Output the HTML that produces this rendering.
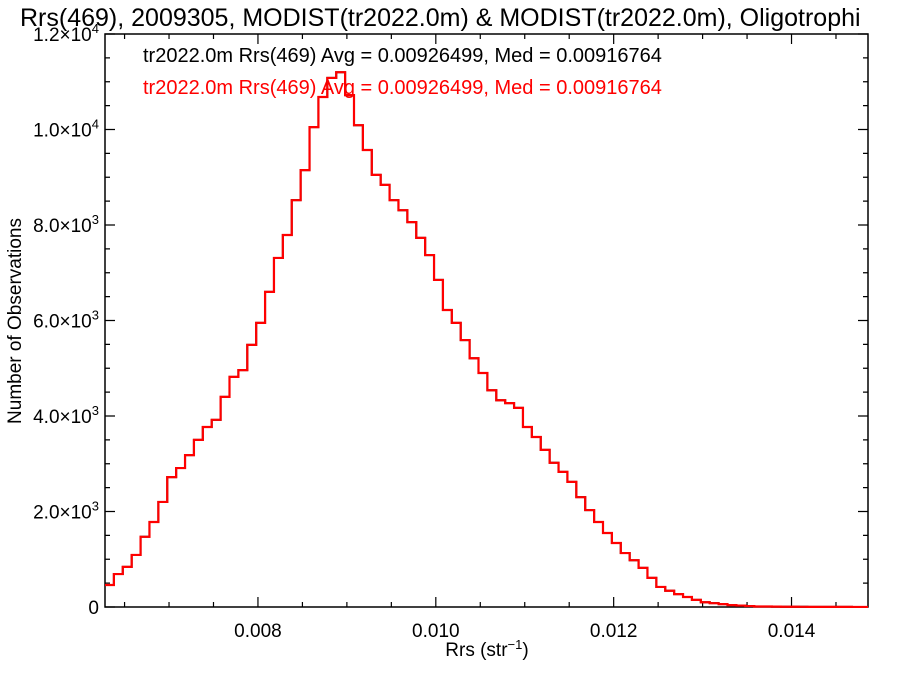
<!DOCTYPE html>
<html><head><meta charset="utf-8"><style>
html,body{margin:0;padding:0;background:#fff;width:900px;height:675px;overflow:hidden}
svg text{font-family:"Liberation Sans",Helvetica,Arial,sans-serif}
</style></head><body>
<svg id="chart" width="900" height="675" xmlns="http://www.w3.org/2000/svg">
<text x="20" y="26" font-size="25" fill="#000">Rrs(469), 2009305, MODIST(tr2022.0m) &amp; MODIST(tr2022.0m), Oligotrophi</text>
<text x="143" y="62" font-size="20" fill="#000">tr2022.0m Rrs(469) Avg = 0.00926499, Med = 0.00916764</text>
<text x="143" y="94" font-size="20" fill="#ff0000">tr2022.0m Rrs(469) Avg = 0.00926499, Med = 0.00916764</text>
<text transform="translate(21,321) rotate(-90)" text-anchor="middle" font-size="19">Number of Observations</text>
<text x="487" y="656" text-anchor="middle" font-size="19">Rrs (str<tspan dy="-7" font-size="13">−1</tspan><tspan dy="7">)</tspan></text>
<g id="axes"></g>
<g id="series"></g>
</svg>
<script>
const binStart = 0.00628;
const binWidth = 0.0001;
const counts = [460,690,840,1090,1470,1780,2200,2720,2910,3180,3500,3770,3920,4400,4820,4960,5490,5950,6600,7310,7790,8520,9150,10050,10680,11080,11200,10720,10090,9570,9050,8840,8520,8310,8060,7730,7370,6850,6220,5950,5590,5210,4900,4540,4330,4270,4170,3770,3560,3290,3020,2830,2620,2300,2030,1780,1550,1340,1130,980,820,610,420,340,270,210,150,100,80,60,40,30,20,10,10,8,6,5,4,3,3,2,2,2,1,1];
const xTicks = [0.008,0.010,0.012,0.014];
const xTickLabels = ["0.008","0.010","0.012","0.014"];
const yTicks = [0,2000,4000,6000,8000,10000,12000];
const yTickMant = ["0","2.0","4.0","6.0","8.0","1.0","1.2"];
const yTickExp = ["","3","3","3","3","4","4"];
const xMin=0.00628,xMax=0.01486,yMin=0,yMax=12000;
const L=105,R=868,T=34,B=607;
const X=v=>L+(v-xMin)/(xMax-xMin)*(R-L);
const Y=v=>B-(v-yMin)/(yMax-yMin)*(B-T);
const NS="http://www.w3.org/2000/svg";
const axes=document.getElementById('axes'),series=document.getElementById('series');
function mk(tag,attrs,parent){const e=document.createElementNS(NS,tag);for(const k in attrs)e.setAttribute(k,attrs[k]);parent.appendChild(e);return e;}
const frame=mk('rect',{x:L,y:T,width:R-L,height:B-T,fill:'none',stroke:'#000','stroke-width':1.5},axes);


for(let v=0.0065;v<=xMax+1e-9;v+=0.0005){const x=X(v);const major=Math.abs(v*1000-Math.round(v*1000/2)*2)<1e-6;const len=major?10:5;
 const t=mk('path',{d:`M${x},${B}V${B-len}M${x},${T}V${T+len}`,stroke:'#000','stroke-width':1.2},axes);
 
 }
for(let v=0;v<=yMax;v+=500){const y=Y(v);const len=(v%2000===0)?10:5;
 const t=mk('path',{d:`M${L},${y}H${L+len}M${R},${y}H${R-len}`,stroke:'#000','stroke-width':1.2},axes);
 
 }
xTicks.forEach((v,i)=>{const t=mk('text',{x:X(v),y:637,'text-anchor':'middle','font-size':19},axes);t.textContent=xTickLabels[i];
 
 });
yTicks.forEach((v,i)=>{const t=mk('text',{x:L-6,y:Y(v)+7,'text-anchor':'end','font-size':19},axes);
 
 
 if(yTickExp[i]===''){t.textContent=yTickMant[i];}
 else{t.textContent=yTickMant[i]+'×10';const s=document.createElementNS(NS,'tspan');s.setAttribute('dy','-8');s.setAttribute('font-size','13');s.textContent=yTickExp[i];t.appendChild(s);}});
function stepPath(){let d='';counts.forEach((c,i)=>{const x0=X(Math.max(binStart+i*binWidth,xMin)),x1=X(Math.min(binStart+(i+1)*binWidth,xMax)),y=Y(c);
 d+=(i===0?`M${x0},${y}`:`V${y}`)+`H${x1}`;});return d;}
const pb=mk('path',{d:stepPath(),fill:'none',stroke:'#000','stroke-width':2},series);


const pr=mk('path',{d:stepPath(),fill:'none',stroke:'#ff0000','stroke-width':2.2},series);


</script>
</body></html>
